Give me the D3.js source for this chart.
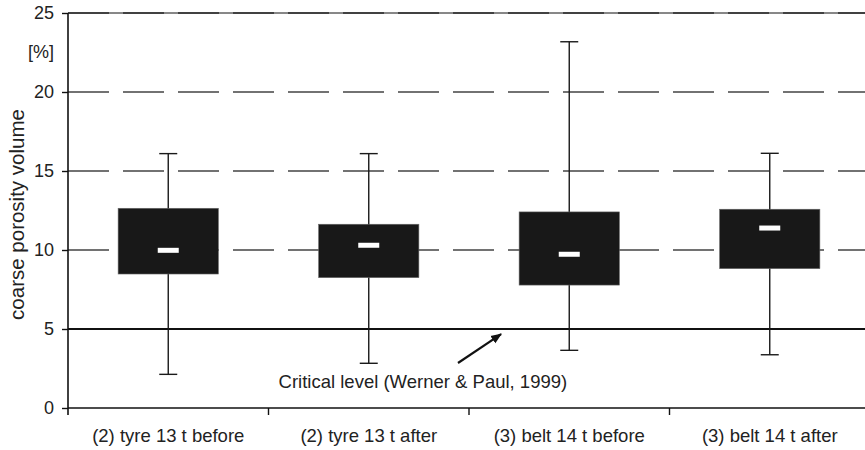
<!DOCTYPE html>
<html>
<head>
<meta charset="utf-8">
<script src="https://cdn.jsdelivr.net/npm/d3@7"></script>
<style>
  html, body { margin: 0; padding: 0; background: #fff; }
  svg { display: block; }
  text { font-family: "Liberation Sans", Arial, Helvetica, sans-serif; fill: #222; }
</style>
</head>
<body>
<svg id="chart" width="865" height="450"></svg>
<script>
const categories = ["(2) tyre 13 t before", "(2) tyre 13 t after", "(3) belt 14 t before", "(3) belt 14 t after"];
const whiskerLow = [2.13, 2.83, 3.65, 3.37];
const q1 = [8.48, 8.25, 7.78, 8.82];
const median = [9.98, 10.3, 9.73, 11.39];
const q3 = [12.64, 11.63, 12.41, 12.58];
const whiskerHigh = [16.1, 16.1, 23.18, 16.12];
const yTicks = [0, 5, 10, 15, 20, 25];
const gridValues = [10, 15, 20, 25];
const criticalLevel = 5;
const yTitle = "coarse porosity volume";
const unitLabel = "[%]";
const annotationText = "Critical level (Werner & Paul, 1999)";
// annotation anchor points in data space (x as category index, y as value)
const annotationTextPos = [1.27, 1.27];
const arrowFrom = [1.445, 2.85];
const arrowTo = [1.66, 4.68];

(function () {
const svg = d3.select("#chart");
const mLeft = 68, mRight = 870, mTop = 13, mBottom = 408;

const x = d3.scaleBand().domain(categories).range([mLeft, mRight]).paddingInner(0.5).paddingOuter(0.25);
const xIdx = d3.scaleLinear().domain([-0.5, categories.length - 0.5]).range([mLeft, mRight]);
const y = d3.scaleLinear().domain([0, 25]).range([mBottom, mTop]);

const defs = svg.append("defs");
defs.append("marker").attr("id", "arrow").attr("viewBox", "0 0 10 10")
  .attr("refX", 9).attr("refY", 5).attr("markerWidth", 5).attr("markerHeight", 5)
  .attr("orient", "auto")
  .append("path").attr("d", "M0,1 L10,5 L0,9 Z").attr("fill", "#111");

// dashed gridlines
svg.append("g").selectAll("line").data(gridValues).join("line")
  .attr("x1", mLeft).attr("x2", 865)
  .attr("y1", d => y(d)).attr("y2", d => y(d))
  .attr("stroke", "#444").attr("stroke-width", 1.4)
  .attr("stroke-dasharray", "41,14");

// top border line (solid thin)
svg.append("line").attr("x1", mLeft).attr("x2", 865).attr("y1", y(25)).attr("y2", y(25))
  .attr("stroke", "#111").attr("stroke-width", 1);

// critical level line
svg.append("line").attr("x1", mLeft).attr("x2", 865)
  .attr("y1", y(criticalLevel)).attr("y2", y(criticalLevel))
  .attr("stroke", "#111").attr("stroke-width", 2);

const idx = d3.range(categories.length);
const cx = i => x(categories[i]) + x.bandwidth() / 2;
const g = svg.append("g");

// whiskers
g.selectAll("line.wh").data(idx).join("line").attr("class", "wh")
  .attr("x1", cx).attr("x2", cx)
  .attr("y1", i => y(whiskerLow[i])).attr("y2", i => y(whiskerHigh[i]))
  .attr("stroke", "#1a1a1a").attr("stroke-width", 1.4);
g.selectAll("line.capH").data(idx).join("line").attr("class", "capH")
  .attr("x1", i => cx(i) - 9).attr("x2", i => cx(i) + 9)
  .attr("y1", i => y(whiskerHigh[i])).attr("y2", i => y(whiskerHigh[i]))
  .attr("stroke", "#1a1a1a").attr("stroke-width", 1.4);
g.selectAll("line.capL").data(idx).join("line").attr("class", "capL")
  .attr("x1", i => cx(i) - 9).attr("x2", i => cx(i) + 9)
  .attr("y1", i => y(whiskerLow[i])).attr("y2", i => y(whiskerLow[i]))
  .attr("stroke", "#1a1a1a").attr("stroke-width", 1.4);

// boxes
g.selectAll("rect.box").data(idx).join("rect").attr("class", "box")
  .attr("x", i => x(categories[i])).attr("width", x.bandwidth())
  .attr("y", i => y(q3[i])).attr("height", i => y(q1[i]) - y(q3[i]))
  .attr("fill", "#181818").attr("stroke", "#666").attr("stroke-width", 0.6);

// medians
g.selectAll("rect.med").data(idx).join("rect").attr("class", "med")
  .attr("x", i => cx(i) - 10.5).attr("width", 21)
  .attr("y", i => y(median[i]) - 2.5).attr("height", 5)
  .attr("fill", "#fff");

// axes
const yAxis = svg.append("g").attr("transform", `translate(${mLeft},0)`)
  .call(d3.axisLeft(y).tickValues(yTicks).tickSize(6).tickPadding(8));
yAxis.select(".domain").remove();
yAxis.selectAll(".tick line").attr("stroke", "#111").attr("stroke-width", 1.4);
yAxis.selectAll(".tick text").attr("font-size", 18).attr("fill", "#222")
  .attr("font-family", "'Liberation Sans', Arial, sans-serif");
svg.append("line").attr("x1", mLeft).attr("x2", mLeft).attr("y1", mTop).attr("y2", mBottom + 7)
  .attr("stroke", "#111").attr("stroke-width", 1.6);

svg.append("line").attr("x1", mLeft).attr("x2", 865).attr("y1", mBottom).attr("y2", mBottom)
  .attr("stroke", "#111").attr("stroke-width", 1.6);
// category boundary ticks
svg.append("g").selectAll("line").data(d3.range(1, categories.length)).join("line")
  .attr("x1", i => xIdx(i - 0.5)).attr("x2", i => xIdx(i - 0.5))
  .attr("y1", mBottom).attr("y2", mBottom + 7)
  .attr("stroke", "#111").attr("stroke-width", 1.4);

// category labels
svg.append("g").selectAll("text").data(idx).join("text")
  .attr("x", cx).attr("y", 442)
  .attr("text-anchor", "middle").attr("font-size", 18.5)
  .text(i => categories[i]);

// y title
svg.append("text").attr("transform", `translate(24,214.5) rotate(-90)`)
  .attr("text-anchor", "middle").attr("font-size", 20.5)
  .text(yTitle);
svg.append("text").attr("x", 54).attr("y", 58).attr("text-anchor", "end")
  .attr("font-size", 18).text(unitLabel);

// annotation
svg.append("text").attr("x", xIdx(annotationTextPos[0])).attr("y", y(annotationTextPos[1]))
  .attr("text-anchor", "middle").attr("font-size", 18.5)
  .text(annotationText);
svg.append("line")
  .attr("x1", xIdx(arrowFrom[0])).attr("y1", y(arrowFrom[1]))
  .attr("x2", xIdx(arrowTo[0])).attr("y2", y(arrowTo[1]))
  .attr("stroke", "#111").attr("stroke-width", 2.2)
  .attr("marker-end", "url(#arrow)");
})();
</script>
</body>
</html>
